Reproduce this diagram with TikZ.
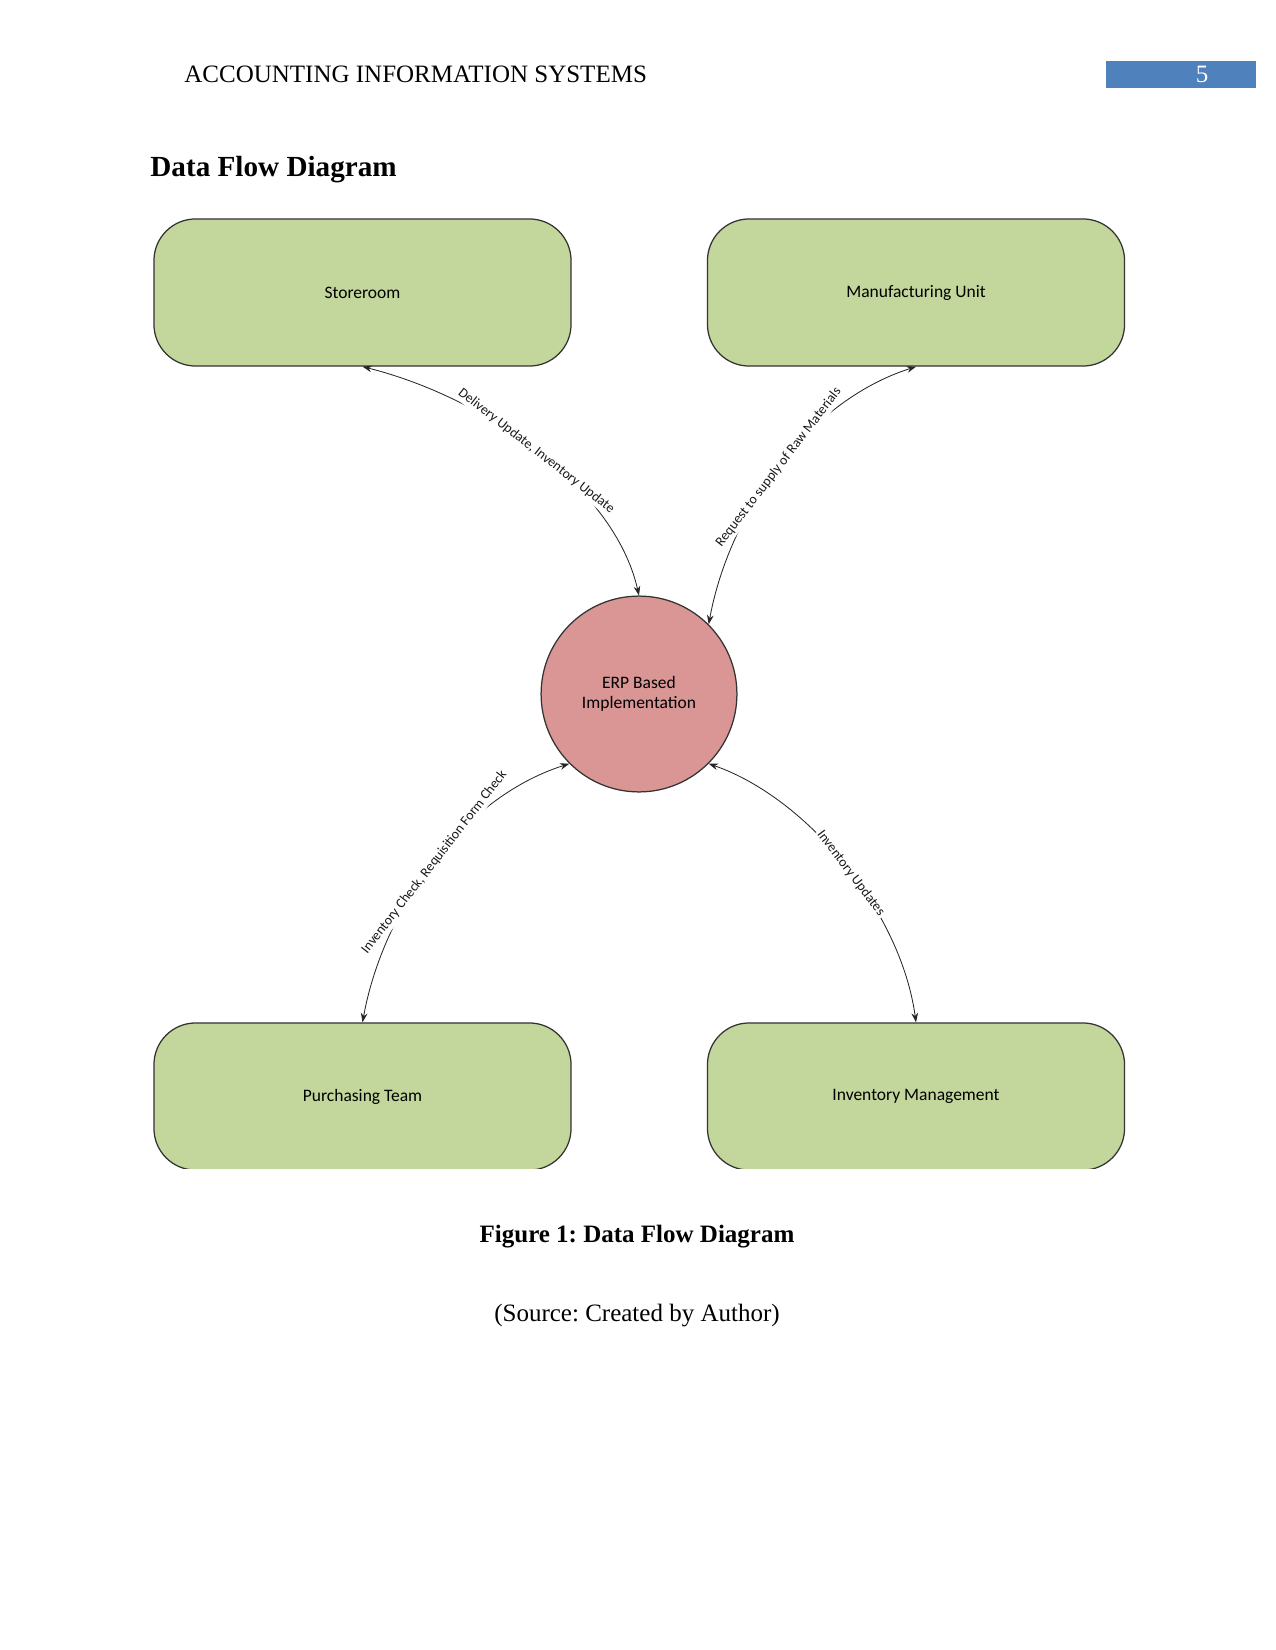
\documentclass[tikz,border=0pt]{standalone}
\usepackage{fontspec}
\setmainfont{Liberation Serif}
\newfontfamily\diagfont{Carlito}
\usetikzlibrary{arrows.meta}
\definecolor{boxgreen}{HTML}{C3D69B}
\definecolor{erpred}{HTML}{D99694}
\definecolor{hdrblue}{HTML}{4F81BD}
\frenchspacing
\begin{document}
\begin{tikzpicture}[x=0.48pt,y=-0.48pt,
  ent/.style={draw=black!80, line width=0.6pt, fill=boxgreen, rounded corners=20pt,
    minimum width=200.2pt, minimum height=70.6pt, inner sep=0pt,
    font=\diagfont\fontsize{8.4}{10}\selectfont},
  proc/.style={circle, draw=black!80, line width=0.6pt, fill=erpred, minimum size=94pt,
    inner sep=0pt, align=center, font=\diagfont\fontsize{8.4}{9.6}\selectfont},
  flow/.style={draw=black!85, line width=0.4pt,
    {Stealth[length=4.5pt,width=3.2pt]}-{Stealth[length=4.5pt,width=3.2pt]}},
  flowlab/.style={sloped, fill=white, inner sep=1pt, text=black!90,
    font=\diagfont\fontsize{6.6}{7}\selectfont}]
\useasboundingbox (0,0) rectangle (1275,1650);
\fill[white] (0,0) rectangle (1275,1650);

% header
\node[anchor=base west, inner sep=0pt, font=\fontsize{12}{14}\selectfont] (hdr) at (184,83) {ACCOUNTING INFORMATION SYSTEMS};
\fill[hdrblue] (1106,61) rectangle (1256,88);
\node[anchor=base, inner sep=0pt, text=white, font=\fontsize{12}{14}\selectfont] (pg) at (1202,83) {5};
\node[anchor=base west, inner sep=0pt, font=\bfseries\fontsize{14}{16}\selectfont] (title) at (150,177) {Data Flow Diagram};

% entities
\node[ent] (store) at (362.5,292.5) {Storeroom};
\node[ent] (mfg) at (916,292.5) {Manufacturing Unit};
\begin{scope}
\clip (0,0) rectangle (1275,1168);
\node[ent] (purch) at (362.5,1096.5) {Purchasing Team};
\node[ent] (invm) at (916,1096.5) {Inventory Management};
\end{scope}

% process
\node[proc] (erp) at (639,694) {ERP Based\\Implementation};

% flows
\draw[flow] (store.south) .. controls +(120,30) and +(-25,-110) .. (erp.north)
  node[flowlab, pos=0.5] {Delivery Update, Inventory Update};
\draw[flow] (mfg.south) .. controls +(-110,35) and +(20,-110) .. (erp.45)
  node[flowlab, pos=0.5] {Request to supply of Raw Materials};
\draw[flow] (purch.north) .. controls +(20,-110) and +(-110,35) .. (erp.225)
  node[flowlab, pos=0.51] {Inventory Check, Requisition Form Check};
\draw[flow] (invm.north) .. controls +(-15,-110) and +(100,35) .. (erp.-45)
  node[flowlab, pos=0.47] {Inventory Updates};

% caption
\node[anchor=base, inner sep=0pt, font=\bfseries\fontsize{12}{14}\selectfont] (cap) at (637,1242) {Figure 1: Data Flow Diagram};
\node[anchor=base, inner sep=0pt, font=\fontsize{12}{14}\selectfont] (src) at (637,1321) {(Source: Created by Author)};
\end{tikzpicture}
\end{document}
